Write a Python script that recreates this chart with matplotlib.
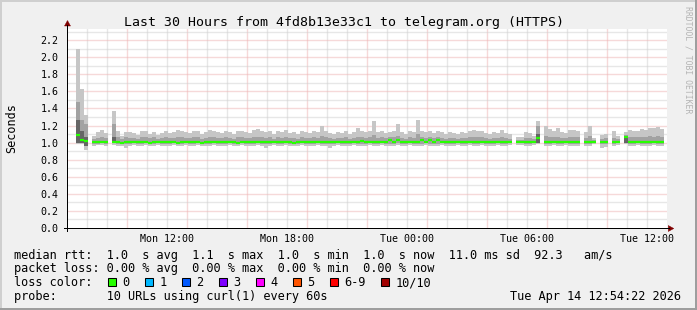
import numpy as np
import matplotlib
matplotlib.use("Agg")
import matplotlib.pyplot as plt
from matplotlib.patches import Polygon, Rectangle
from matplotlib.lines import Line2D
from matplotlib.transforms import IdentityTransform

nan = np.nan

# ---------------- data (hours since Mon 07:00, 12-minute steps) ----------------
first_bar_hour = -0.15
step_hours = 0.2

hi = [2.17, nan, nan, 2.10, 1.63, 1.32, nan, 1.08, 1.12, 1.15,
      1.11, nan, 1.37, 1.14, 1.08, 1.12, 1.12, 1.11, 1.09, 1.14,
      1.14, 1.10, 1.12, 1.09, 1.11, 1.13, 1.11, 1.12, 1.15, 1.13,
      1.12, 1.11, 1.14, 1.13, 1.10, 1.12, 1.15, 1.14, 1.12, 1.11,
      1.13, 1.12, 1.10, 1.13, 1.14, 1.12, 1.11, 1.15, 1.16, 1.13,
      1.12, 1.14, 1.10, 1.13, 1.12, 1.15, 1.11, 1.12, 1.10, 1.13,
      1.12, 1.11, 1.14, 1.12, 1.19, 1.13, 1.11, 1.10, 1.12, 1.11,
      1.13, 1.10, 1.12, 1.17, 1.14, 1.12, 1.13, 1.25, 1.12, 1.13,
      1.11, 1.12, 1.14, 1.22, 1.12, 1.10, 1.13, 1.12, 1.27, 1.13,
      1.12, 1.14, 1.11, 1.13, 1.12, 1.10, 1.12, 1.11, 1.10, 1.12,
      1.11, 1.14, 1.15, 1.13, 1.14, 1.11, 1.10, 1.12, 1.11, 1.15,
      1.11, 1.10, nan, 1.07, 1.07, 1.12, 1.11, 1.08, 1.25, nan,
      1.20, 1.16, 1.14, 1.17, 1.12, 1.11, 1.15, 1.15, 1.14, nan,
      1.12, 1.19, 1.05, nan, 1.09, 1.10, nan, 1.13, 1.08, nan,
      1.12, 1.15, 1.14, 1.13, 1.16, 1.15, 1.17, 1.17, 1.18, 1.16]

mid_hi = [1.45, nan, nan, 1.47, 1.27, 1.22, nan, 1.04, 1.05, 1.06,
          1.05, nan, 1.22, 1.06, 1.04, 1.06, 1.05, 1.05, 1.04, 1.06,
          1.07, 1.05, 1.06, 1.04, 1.05, 1.06, 1.05, 1.05, 1.07, 1.06,
          1.05, 1.05, 1.06, 1.06, 1.04, 1.05, 1.07, 1.06, 1.05, 1.05,
          1.06, 1.05, 1.04, 1.06, 1.06, 1.05, 1.05, 1.07, 1.07, 1.06,
          1.05, 1.06, 1.04, 1.06, 1.05, 1.07, 1.05, 1.05, 1.04, 1.06,
          1.05, 1.05, 1.06, 1.05, 1.08, 1.06, 1.05, 1.04, 1.05, 1.05,
          1.06, 1.04, 1.05, 1.07, 1.06, 1.05, 1.06, 1.09, 1.05, 1.06,
          1.05, 1.06, 1.06, 1.08, 1.05, 1.04, 1.06, 1.05, 1.10, 1.06,
          1.05, 1.06, 1.05, 1.06, 1.05, 1.04, 1.05, 1.05, 1.04, 1.05,
          1.05, 1.06, 1.07, 1.06, 1.06, 1.05, 1.04, 1.05, 1.05, 1.07,
          1.05, 1.04, nan, 1.03, 1.03, 1.05, 1.05, 1.04, 1.20, nan,
          1.08, 1.07, 1.06, 1.07, 1.05, 1.05, 1.06, 1.06, 1.06, nan,
          1.05, 1.08, 1.03, nan, 1.04, 1.05, nan, 1.05, 1.04, nan,
          1.09, 1.07, 1.06, 1.06, 1.07, 1.07, 1.08, 1.07, 1.08, 1.07]

mid_lo = [1.00, nan, nan, 0.99, 0.99, 0.96, nan, 0.985, 0.985, 0.99,
          0.985, nan, 0.99, 0.985, 0.985, 0.98, 0.985, 0.99, 0.985, 0.985,
          0.99, 0.985, 0.985, 0.99, 0.985, 0.985, 0.985, 0.99, 0.985, 0.985,
          0.99, 0.985, 0.985, 0.99, 0.985, 0.985, 0.985, 0.99, 0.985, 0.985,
          0.985, 0.99, 0.985, 0.985, 0.99, 0.985, 0.985, 0.985, 0.99, 0.985,
          0.98, 0.985, 0.99, 0.985, 0.985, 0.99, 0.985, 0.985, 0.985, 0.99,
          0.985, 0.985, 0.985, 0.99, 0.985, 0.985, 0.98, 0.985, 0.99, 0.985,
          0.985, 0.985, 0.99, 0.985, 0.985, 0.985, 0.99, 0.985, 0.985, 0.99,
          0.985, 0.985, 0.985, 0.99, 0.985, 0.985, 0.99, 0.985, 0.985, 0.985,
          0.99, 0.985, 0.985, 0.985, 0.99, 0.985, 0.985, 0.985, 0.99, 0.985,
          0.985, 0.99, 0.985, 0.985, 0.99, 0.985, 0.985, 0.985, 0.99, 0.985,
          0.985, 0.99, nan, 0.99, 0.99, 0.985, 0.985, 0.99, 0.99, nan,
          0.985, 0.985, 0.99, 0.985, 0.985, 0.99, 0.985, 0.985, 0.985, nan,
          0.985, 0.985, 0.99, nan, 0.98, 0.98, nan, 0.985, 0.99, nan,
          0.99, 0.985, 0.985, 0.99, 0.985, 0.985, 0.985, 0.99, 0.985, 0.985]

lo = [0.99, nan, nan, 0.985, 0.98, 0.91, nan, 0.965, 0.97, 0.97,
      0.965, nan, 0.97, 0.965, 0.96, 0.94, 0.96, 0.97, 0.965, 0.965,
      0.97, 0.96, 0.965, 0.97, 0.965, 0.965, 0.96, 0.97, 0.965, 0.96,
      0.97, 0.965, 0.96, 0.97, 0.965, 0.96, 0.965, 0.97, 0.965, 0.96,
      0.965, 0.97, 0.96, 0.965, 0.97, 0.965, 0.96, 0.965, 0.97, 0.96,
      0.94, 0.965, 0.97, 0.96, 0.965, 0.97, 0.965, 0.96, 0.965, 0.97,
      0.965, 0.96, 0.965, 0.97, 0.96, 0.965, 0.94, 0.965, 0.97, 0.965,
      0.96, 0.965, 0.97, 0.965, 0.96, 0.965, 0.97, 0.96, 0.965, 0.97,
      0.965, 0.96, 0.965, 0.97, 0.96, 0.965, 0.97, 0.965, 0.96, 0.965,
      0.97, 0.965, 0.96, 0.965, 0.97, 0.965, 0.96, 0.965, 0.97, 0.96,
      0.965, 0.97, 0.96, 0.965, 0.97, 0.965, 0.96, 0.965, 0.97, 0.96,
      0.965, 0.97, nan, 0.975, 0.97, 0.96, 0.965, 0.97, 0.985, nan,
      0.96, 0.965, 0.97, 0.96, 0.965, 0.97, 0.965, 0.96, 0.965, nan,
      0.965, 0.96, 0.985, nan, 0.94, 0.95, nan, 0.96, 0.975, nan,
      0.985, 0.965, 0.96, 0.97, 0.965, 0.96, 0.965, 0.97, 0.965, 0.96]

dark_hi = [1.30, nan, nan, 1.27, 1.13, 1.06, nan, nan, nan, nan,
           nan, nan, 1.06, nan, nan, nan, nan, nan, nan, nan,
           nan, nan, nan, nan, nan, nan, nan, nan, nan, nan,
           nan, nan, nan, nan, nan, nan, nan, nan, nan, nan,
           nan, nan, nan, nan, nan, nan, nan, nan, nan, nan,
           nan, nan, nan, nan, nan, nan, nan, nan, nan, nan,
           nan, nan, nan, nan, nan, nan, nan, nan, nan, nan,
           nan, nan, nan, nan, nan, nan, nan, nan, nan, nan,
           nan, nan, nan, nan, nan, nan, nan, nan, nan, nan,
           nan, nan, nan, nan, nan, nan, nan, nan, nan, nan,
           nan, nan, nan, nan, nan, nan, nan, nan, nan, nan,
           nan, nan, nan, nan, nan, nan, nan, nan, 1.10, nan,
           nan, nan, nan, nan, nan, nan, nan, nan, nan, nan,
           nan, nan, nan, nan, nan, nan, nan, nan, nan, nan,
           1.07, nan, nan, nan, nan, nan, nan, nan, nan, nan]

median = [1.07, nan, nan, 1.09, 1.035, 1.015, nan, 1.005, 1.005, 1.005,
          1.005, nan, 1.005, 1.005, 1.0, 1.005, 1.005, 1.01, 1.005, 1.005,
          1.005, 1.0, 1.005, 1.005, 1.005, 1.005, 1.005, 1.005, 1.0, 1.005,
          1.005, 1.005, 1.005, 1.005, 1.0, 1.005, 1.005, 1.005, 1.005, 1.005,
          1.005, 1.005, 1.005, 1.0, 1.005, 1.005, 1.005, 1.005, 1.005, 1.005,
          1.005, 1.005, 1.005, 1.005, 1.005, 1.005, 1.005, 1.0, 1.005, 1.005,
          1.005, 1.005, 1.005, 1.005, 1.005, 1.005, 1.005, 1.005, 1.005, 1.005,
          1.005, 1.005, 1.005, 1.005, 1.015, 1.005, 1.005, 1.005, 1.005, 1.005,
          1.005, 1.03, 1.005, 1.03, 1.005, 1.005, 1.005, 1.005, 1.005, 1.03,
          1.005, 1.03, 1.005, 1.03, 1.005, 1.005, 1.005, 1.005, 1.005, 1.005,
          1.005, 1.005, 1.005, 1.005, 1.005, 1.005, 1.005, 1.005, 1.005, 1.005,
          1.005, 1.005, nan, 1.005, 1.005, 1.005, 1.005, 1.005, 1.05, nan,
          1.005, 1.005, 1.005, 1.005, 1.005, 1.005, 1.005, 1.005, 1.005, nan,
          1.005, 1.005, 1.005, nan, 1.005, 1.005, nan, 1.005, 1.005, nan,
          1.06, 1.005, 1.005, 1.005, 1.005, 1.005, 1.005, 1.005, 1.005, 1.005]

x_tick_hours = [5, 11, 17, 23, 29]
x_tick_labels = ["Mon 12:00", "Mon 18:00", "Tue 00:00", "Tue 06:00", "Tue 12:00"]
y_ticks = [0.0, 0.2, 0.4, 0.6, 0.8, 1.0, 1.2, 1.4, 1.6, 1.8, 2.0, 2.2]

title = "Last 30 Hours from 4fd8b13e33c1 to telegram.org (HTTPS)"
y_label = "Seconds"
rtt_values = [1.0, 1.1, 1.0, 1.0]
rtt_sd_ms = 11.0
rtt_am_s = 92.3
loss_values = [0.00, 0.00, 0.00, 0.00]
loss_labels = ["0", "1", "2", "3", "4", "5", "6-9", "10/10"]
loss_colors = ["#26ff00", "#00b8ff", "#0059ff", "#7e00ff", "#ff00ff",
               "#ff5500", "#ff0000", "#a10000"]
probe_text = "10 URLs using curl(1) every 60s"
timestamp = "Tue Apr 14 12:54:22 2026"
watermark = "RRDTOOL / TOBI OETIKER"

# ---------------- figure ----------------
W, H = 697, 310
MONO = "DejaVu Sans Mono"
fig = plt.figure(figsize=(W / 100, H / 100), dpi=100, facecolor="#f0f0f0")

PX_L, PX_R, PX_T, PX_B = 67.0, 667.0, 29.0, 228.0
ax = fig.add_axes([PX_L / W, 1 - PX_B / H, (PX_R - PX_L) / W, (PX_B - PX_T) / H])
ax.set_facecolor("white")
ax.set_xlim(0, 30)
ax.set_ylim(0, 2.33)

# grid (dotted, drawn beneath the smoke)
minor_c, major_c = "#d0d0d0", "#efb4b4"
for h in range(1, 30):
    ax.axvline(h, color=major_c if h % 3 == 0 else minor_c, lw=1.0,
               ls=(0, (0.72, 0.72)), zorder=1)
for j in range(1, 24):
    ax.axhline(j / 10, color=major_c if j % 2 == 0 else minor_c, lw=1.0,
               ls=(0, (0.72, 0.72)), zorder=1)

# smoke
n = len(hi)
t = first_bar_hour + step_hours * np.arange(n)
hi_a, lo_a = np.array(hi), np.array(lo)
mh_a, ml_a = np.array(mid_hi), np.array(mid_lo)
dk_a, md_a = np.array(dark_hi), np.array(median)

ax.bar(t, hi_a - lo_a, bottom=lo_a, width=step_hours, align="edge",
       color="#c6c6c6", linewidth=0, antialiased=False, zorder=2)
ax.bar(t, mh_a - ml_a, bottom=ml_a, width=step_hours, align="edge",
       color="#a2a2a2", linewidth=0, antialiased=False, zorder=3)
ax.bar(t, dk_a - ml_a, bottom=ml_a, width=step_hours, align="edge",
       color="#666666", linewidth=0, antialiased=False, zorder=4)
ax.hlines(md_a, t, t + step_hours, colors="#26ff00", lw=1.6, zorder=5,
          capstyle="butt")

for s in ax.spines.values():
    s.set_visible(False)

ax.set_xticks(x_tick_hours)
ax.set_xticklabels(x_tick_labels, fontfamily=MONO, fontsize=7.2)
ax.set_yticks(y_ticks)
ax.set_yticklabels([f"{v:.1f}" for v in y_ticks], fontfamily=MONO, fontsize=7.2)
ax.tick_params(axis="x", length=0, pad=4.6)
ax.tick_params(axis="y", length=0, pad=6.0)

# ---------------- decorations in pixel space ----------------
ID = IdentityTransform()


def P(x, y):
    return (x, H - y)


def line(x1, y1, x2, y2, c="black", lw=0.72):
    fig.add_artist(Line2D([x1, x2], [H - y1, H - y2], color=c, lw=lw,
                          transform=ID))


line(PX_L, PX_B + 3, PX_L, 25)
line(PX_L - 3, PX_B, 669, PX_B)
arrow_c = "#7f0000"
fig.add_artist(Polygon([P(PX_L + 0.5, 20.5), P(PX_L - 2.5, 26), P(PX_L + 3.5, 26)],
                       closed=True, facecolor=arrow_c, edgecolor=arrow_c, lw=0.3,
                       transform=ID))
fig.add_artist(Polygon([P(673.8, PX_B + 0.5), P(668.3, PX_B - 2.5), P(668.3, PX_B + 3.5)],
                       closed=True, facecolor=arrow_c, edgecolor=arrow_c, lw=0.3,
                       transform=ID))

# frame shading
fig.add_artist(Rectangle((0, H - 2), W, 2, facecolor="#cfcfcf", lw=0, transform=ID))
fig.add_artist(Rectangle((0, 0), 2, H, facecolor="#cfcfcf", lw=0, transform=ID))
fig.add_artist(Rectangle((0, 0), W, 2, facecolor="#9e9e9e", lw=0, transform=ID))
fig.add_artist(Rectangle((W - 2, 0), 2, H, facecolor="#9e9e9e", lw=0, transform=ID))


def txt(x, y, s, size=8.55, **kw):
    fig.text(x / W, 1 - y / H, s, fontfamily=MONO, fontsize=size, **kw)


txt(344.5, 26, title, size=9.5, ha="center", va="baseline")
txt(11.3, 128.5, y_label, size=8.5, ha="center", va="center", rotation=90)
txt(688, 60, watermark, size=5.9, ha="center", va="center", rotation=270,
    color="#b4b4b4")

row1 = "median rtt:  " + "  ".join(
    f"{v:.1f}  s {lab}" for v, lab in zip(rtt_values, ["avg", "max", "min", "now"])
) + f"  {rtt_sd_ms:.1f} ms sd  {rtt_am_s:.1f}   am/s"
row2 = "packet loss: " + "  ".join(
    f"{v:.2f} % {lab}" for v, lab in zip(loss_values, ["avg", "max", "min", "now"])
)
row4 = "probe:       " + probe_text

LX = 14.5
txt(LX, 258.5, row1, va="baseline")
txt(LX, 272.2, row2, va="baseline")
txt(LX, 286.0, "loss color:", va="baseline")
txt(LX, 299.7, row4, va="baseline")
txt(681, 299.7, timestamp, ha="right", va="baseline")

CH = 7.16
bx = 108.3
for lab, col in zip(loss_labels, loss_colors):
    fig.add_artist(Rectangle((bx, H - 285.7), 8, 8, facecolor=col,
                             edgecolor="black", lw=0.75, transform=ID))
    txt(bx + 14.2, 286.0, lab, va="baseline")
    bx += 14.2 + CH * len(lab) + 15.6

fig.savefig("out.png", dpi=100, facecolor=fig.get_facecolor())
